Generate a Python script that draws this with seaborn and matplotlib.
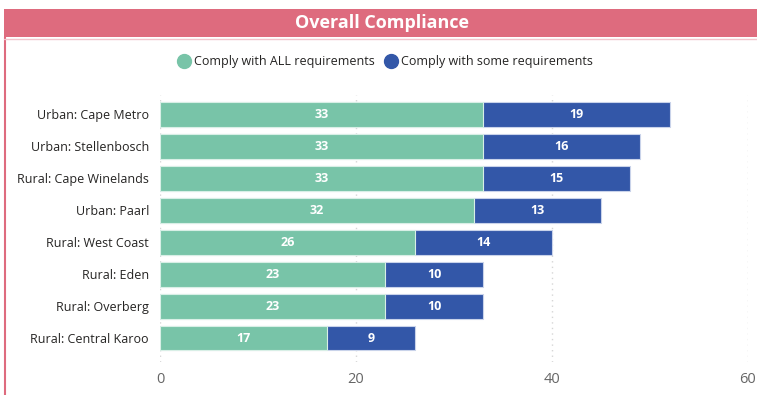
import matplotlib
matplotlib.use("Agg")
import matplotlib.pyplot as plt
from matplotlib.lines import Line2D
from matplotlib.patches import Rectangle
import seaborn as sns
import pandas as pd

regions = [
    "Urban: Cape Metro",
    "Urban: Stellenbosch",
    "Rural: Cape Winelands",
    "Urban: Paarl",
    "Rural: West Coast",
    "Rural: Eden",
    "Rural: Overberg",
    "Rural: Central Karoo",
]
comply_all = [33, 33, 33, 32, 26, 23, 23, 17]
comply_some = [19, 16, 15, 13, 14, 10, 10, 9]
x_ticks = [0, 20, 40, 60]

GREEN = "#78C4A8"
BLUE = "#3357A8"
PINK = "#DE6B7E"

df = pd.DataFrame({"region": regions, "all": comply_all, "some": comply_some})
df["total"] = df["all"] + df["some"]

sns.set_theme(style="white")
plt.rcParams["font.family"] = ["Open Sans", "DejaVu Sans"]

fig = plt.figure(figsize=(7.57, 3.95), dpi=100)
ax = fig.add_axes([160 / 757, 1 - 362 / 395, 588 / 757, (362 - 95) / 395])

# stacked bars: total in blue underneath, ALL-requirements segment on top
sns.barplot(data=df, x="total", y="region", color=BLUE, orient="h",
            width=0.78, ax=ax, saturation=1, edgecolor="#C9D3EA", linewidth=0.8)
sns.barplot(data=df, x="all", y="region", color=GREEN, orient="h",
            width=0.78, ax=ax, saturation=1, edgecolor="#D8EFE6", linewidth=0.8)

for i, (a, s) in enumerate(zip(comply_all, comply_some)):
    ax.text(a / 2, i, str(a), ha="center", va="center", color="white",
            fontsize=9, fontweight="bold")
    ax.text(a + s / 2, i, str(s), ha="center", va="center", color="white",
            fontsize=9, fontweight="bold")

ax.set_xlim(0, 60)
ax.set_ylim(7.75, -0.6)
ax.set_xticks(x_ticks)
ax.set_xticklabels([str(t) for t in x_ticks], color="#666666", fontsize=10.5)
ax.tick_params(axis="x", length=0, pad=7)
ax.tick_params(axis="y", length=0, pad=8, labelsize=9, labelcolor="#252423")
ax.set_xlabel("")
ax.set_ylabel("")
ax.set_axisbelow(True)
ax.xaxis.grid(True, color="#D6D6D6", linestyle=(0, (1, 3)), linewidth=1)
for sp in ax.spines.values():
    sp.set_visible(False)

# header banner and card border
fig.patches.append(Rectangle((4 / 757, 1 - 37 / 395), 753 / 757, 28 / 395,
                             transform=fig.transFigure, facecolor=PINK,
                             edgecolor="none", zorder=0))
fig.lines.append(Line2D([5 / 757, 5 / 757], [0, 1 - 37 / 395],
                        transform=fig.transFigure, color=PINK, linewidth=1.5))
fig.lines.append(Line2D([4 / 757, 1], [1 - 38.5 / 395, 1 - 38.5 / 395],
                        transform=fig.transFigure, color="#F3C4CC", linewidth=1))
fig.text(382 / 757, 1 - 23 / 395, "Overall Compliance", ha="center", va="center",
         color="white", fontsize=13, fontweight="bold")

handles = [
    Line2D([], [], marker="o", linestyle="none", markersize=10,
           markerfacecolor=GREEN, markeredgecolor=GREEN, label="Comply with ALL requirements"),
    Line2D([], [], marker="o", linestyle="none", markersize=10,
           markerfacecolor=BLUE, markeredgecolor=BLUE, label="Comply with some requirements"),
]
fig.legend(handles=handles, loc="center", bbox_to_anchor=(382 / 757, 1 - 62 / 395),
           ncol=2, frameon=False, fontsize=9, handletextpad=-0.2,
           columnspacing=0.3, labelcolor="#252423")

fig.savefig("out.png", dpi=100)
